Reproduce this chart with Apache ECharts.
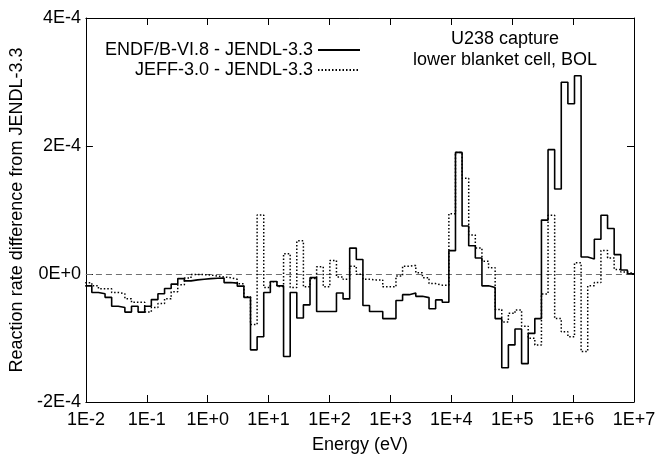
<!DOCTYPE html>
<html>
<head>
<meta charset="utf-8">
<script src="https://cdn.jsdelivr.net/npm/echarts@6/dist/echarts.min.js"></script>
<style>
  html, body { margin: 0; padding: 0; background: #fff; }
  #chart { width: 659px; height: 459px; }
</style>
</head>
<body>
<div id="chart"></div>
<script>
// Group boundaries (eV), ascending; group j spans groupEdges[j] .. groupEdges[j+1]
const groupEdges = [
  9.7364e-3, 1.2502e-2, 1.6052e-2, 2.0612e-2, 2.6466e-2, 3.3983e-2, 4.3635e-2, 5.6028e-2, 7.1941e-2, 9.2374e-2,
  1.1861e-1, 1.5230e-1, 1.9556e-1, 2.5110e-1, 3.2242e-1, 4.1399e-1, 5.3158e-1, 6.8256e-1, 8.7642e-1, 1.1254,
  1.4450, 1.8554, 2.3824, 3.0590, 3.9279, 5.0435, 6.4760, 8.3153, 1.0677e1, 1.3710e1,
  1.7603e1, 2.2603e1, 2.9023e1, 3.7267e1, 4.7851e1, 6.1442e1, 7.8893e1, 1.0130e2, 1.3007e2, 1.6702e2,
  2.1445e2, 2.7536e2, 3.5357e2, 4.5400e2, 5.8295e2, 7.4852e2, 9.6112e2, 1.2341e3, 1.5846e3, 2.0347e3,
  2.6126e3, 3.3546e3, 4.3074e3, 5.5308e3, 7.1017e3, 9.1188e3, 1.1709e4, 1.5034e4, 1.9305e4, 2.4788e4,
  3.1828e4, 4.0868e4, 5.2475e4, 6.7379e4, 8.6517e4, 1.1109e5, 1.4264e5, 1.8316e5, 2.3518e5, 3.0197e5,
  3.8774e5, 4.9787e5, 6.3928e5, 8.2085e5, 1.0540e6, 1.3534e6, 1.7377e6, 2.2313e6, 2.8650e6, 3.6788e6,
  4.7237e6, 6.0653e6, 7.7880e6, 1.0000e7
];

// Reaction rate difference per group: ENDF/B-VI.8 - JENDL-3.3
const endfDiff = [
  -1.85e-5, -2.88e-5, -3.08e-5, -3.65e-5, -5.03e-5, -5.23e-5, -5.95e-5, -5.03e-5, -5.95e-5, -5.03e-5,
  -4.0e-5, -3.08e-5, -2.26e-5, -1.58e-5, -7.2e-6, -1.08e-5, -9.2e-6, -8.2e-6, -7.2e-6, -6.6e-6,
  -6.2e-6, -1.34e-5, -1.43e-5, -1.9e-5, -3.65e-5, -1.185e-4, -9.8e-5, -2.88e-5, -1.18e-5, -1.85e-5,
  -1.29e-4, -2.88e-5, -6.88e-5, -4.82e-5, -5.7e-6, -5.85e-5, -5.85e-5, -5.85e-5, -2.97e-5, -3.89e-5,
  4.05e-5, 2.26e-5, -4.92e-5, -5.85e-5, -5.85e-5, -6.97e-5, -6.97e-5, -4.15e-5, -3.23e-5, -2.97e-5,
  -3.49e-5, -3.69e-5, -5.43e-5, -4.05e-5, -4.42e-5, 3.65e-5, 1.90e-4, 7.49e-5, 4.42e-5, 2.51e-5,
  -1.85e-5, -2.11e-5, -6.97e-5, -1.466e-4, -1.108e-4, -8.6e-5, -1.40e-4, -9.28e-5, -6.97e-5, 8.42e-5,
  1.943e-4, 1.328e-4, 2.995e-4, 2.66e-4, 3.097e-4, 2.66e-5, 2.35e-5, 5.43e-5, 9.18e-5, 7.12e-5,
  3.03e-5, 6.2e-6, 5e-7
];

// Reaction rate difference per group: JEFF-3.0 - JENDL-3.3
const jeffDiff = [
  -1.38e-5, -1.85e-5, -2.31e-5, -2.31e-5, -2.88e-5, -3.08e-5, -3.85e-5, -4.42e-5, -4.42e-5, -5.95e-5,
  -5.23e-5, -4.62e-5, -3.85e-5, -2.77e-5, -1.69e-5, -6.2e-6, -8e-7, -1e-6, -1.5e-6, -3.1e-6,
  -4.6e-6, -5.7e-6, -8.2e-6, -1.54e-5, -3.54e-5, -7.89e-5, 9.23e-5, -2.11e-5, -1.23e-5, -1.95e-5,
  3.18e-5, -2.11e-5, 5.18e-5, -2.0e-5, -7.2e-6, 1.12e-5, -2.0e-5, 2.11e-5, -4.6e-6, -8.2e-6,
  1.23e-5, -5e-7, -8.2e-6, -9.2e-6, -9.2e-6, -2.0e-5, -2.0e-5, -3.1e-6, 1.23e-5, 1.34e-5,
  2.0e-6, -5.7e-6, -1.49e-5, -1.74e-5, -1.74e-5, 9.43e-5, 1.90e-4, 1.497e-4, 6.11e-5, 4.05e-5,
  2.0e-5, 9.7e-6, -5.54e-5, -7.49e-5, -6.15e-5, -5.62e-5, -8.15e-5, -1.005e-4, -1.108e-4, -3.12e-5,
  9.18e-5, -6.97e-5, -9.03e-5, -9.8e-5, 1.74e-5, -1.211e-4, -1.85e-5, -1.34e-5, 3.69e-5, 2.51e-5,
  7.2e-6, 3.1e-6, 5e-7
];

const seriesNames = ['ENDF/B-VI.8 - JENDL-3.3', 'JEFF-3.0 - JENDL-3.3'];
const annotationLines = ['U238 capture', 'lower blanket cell, BOL'];
const xAxisTitle = 'Energy (eV)';
const yAxisTitle = 'Reaction rate difference from JENDL-3.3';
const yTicks = { min: -2e-4, max: 4e-4, step: 2e-4 };
const xRange = { min: 1e-2, max: 1e7 };

const FONT = '"Liberation Sans", Arial, Helvetica, sans-serif';
const FS = 18;

// Histogram points: value held from each lower group edge, closed at the last upper edge
function histogramPoints(values) {
  const pts = values.map((v, i) => [groupEdges[i], v]);
  pts.push([groupEdges[values.length], values[values.length - 1]]);
  return pts;
}

function sciLabel(v) {
  if (Math.abs(v) < 1e-12) return '0E+0';
  const e = Math.floor(Math.log10(Math.abs(v)) + 1e-9);
  const m = Math.round(v / Math.pow(10, e));
  return m + 'E' + (e >= 0 ? '+' : '-') + Math.abs(e);
}
function decadeLabel(v) {
  const e = Math.round(Math.log10(v));
  return '1E' + (e >= 0 ? '+' : '-') + Math.abs(e);
}

const chart = echarts.init(document.getElementById('chart'), null, { renderer: 'canvas' });

const frameLine = { show: true, onZero: false, lineStyle: { color: '#000', width: 1 } };
const innerTick = { show: true, inside: true, length: 7, lineStyle: { color: '#000', width: 1 } };

const legendBase = {
  right: 298,
  orient: 'vertical',
  align: 'right',
  padding: 0,
  itemWidth: 42,
  itemHeight: 14,
  selectedMode: false,
  itemStyle: { opacity: 0 },
  textStyle: { fontFamily: FONT, fontSize: FS, color: '#000' }
};

chart.setOption({
  animation: false,
  backgroundColor: '#fff',
  textStyle: { fontFamily: FONT },
  grid: { left: 85, right: 25, top: 18, bottom: 51, containLabel: false },
  legend: [
    Object.assign({}, legendBase, { top: 41, data: [seriesNames[0]] }),
    Object.assign({}, legendBase, { top: 61, data: [seriesNames[1]] })
  ],
  graphic: [{
    type: 'text',
    x: 505,
    y: 29,
    style: {
      text: annotationLines.join('\n'),
      font: FS + 'px ' + FONT,
      fill: '#000',
      textAlign: 'center',
      textVerticalAlign: 'top',
      lineHeight: 21
    }
  }],
  xAxis: [{
    type: 'log',
    logBase: 10,
    min: xRange.min,
    max: xRange.max,
    splitNumber: 9,
    position: 'bottom',
    name: xAxisTitle,
    nameLocation: 'middle',
    nameGap: 34,
    nameTextStyle: { fontFamily: FONT, fontSize: FS, color: '#000' },
    axisLine: frameLine,
    axisTick: innerTick,
    minorTick: { show: false },
    splitLine: { show: false },
    axisLabel: { formatter: decadeLabel, fontFamily: FONT, fontSize: FS, color: '#000', margin: 9 }
  }, {
    type: 'log',
    logBase: 10,
    min: xRange.min,
    max: xRange.max,
    splitNumber: 9,
    position: 'top',
    axisLine: frameLine,
    axisTick: innerTick,
    splitLine: { show: false },
    axisLabel: { show: false }
  }],
  yAxis: [{
    type: 'value',
    min: yTicks.min,
    max: yTicks.max,
    interval: yTicks.step,
    position: 'left',
    name: yAxisTitle,
    nameLocation: 'middle',
    nameGap: 50,
    nameRotate: 90,
    nameTextStyle: { fontFamily: FONT, fontSize: FS, color: '#000' },
    axisLine: frameLine,
    axisTick: innerTick,
    splitLine: { show: false },
    axisLabel: { formatter: sciLabel, fontFamily: FONT, fontSize: FS, color: '#000', margin: 5 }
  }, {
    type: 'value',
    min: yTicks.min,
    max: yTicks.max,
    interval: yTicks.step,
    position: 'right',
    axisLine: frameLine,
    axisTick: innerTick,
    splitLine: { show: false },
    axisLabel: { show: false }
  }],
  series: [{
    name: seriesNames[1],
    type: 'line',
    step: 'end',
    symbol: 'none',
    clip: true,
    xAxisIndex: 0,
    yAxisIndex: 0,
    data: histogramPoints(jeffDiff),
    lineStyle: { color: '#000', width: 1.5, type: [1.5, 2] },
    itemStyle: { color: '#000' },
    z: 2
  }, {
    name: seriesNames[0],
    type: 'line',
    step: 'end',
    symbol: 'none',
    clip: true,
    xAxisIndex: 0,
    yAxisIndex: 0,
    data: histogramPoints(endfDiff),
    lineStyle: { color: '#000', width: 1.6 },
    itemStyle: { color: '#000' },
    z: 3,
    markLine: {
      silent: true,
      symbol: 'none',
      label: { show: false },
      lineStyle: { color: '#707070', width: 1.2, type: [6, 4] },
      data: [{ yAxis: 0 }],
      z: 1
    }
  }]
});
</script>
</body>
</html>
